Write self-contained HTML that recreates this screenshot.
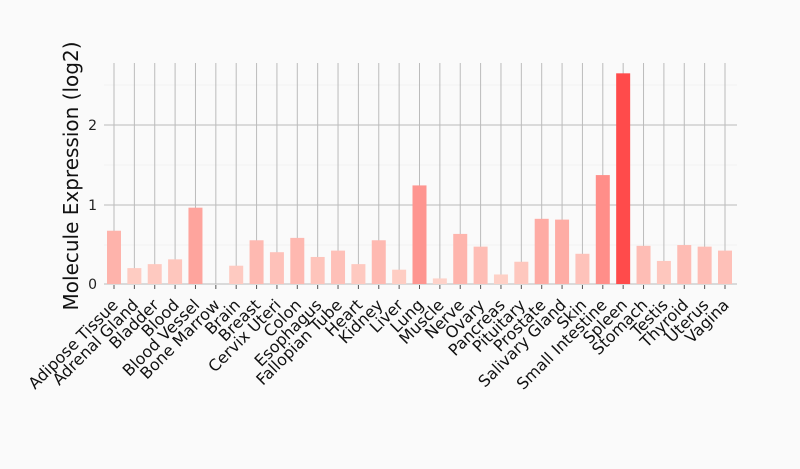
<!DOCTYPE html><html><head><style>body{margin:0;background:#fafafa}</style></head><body>
<svg width="800" height="464" xmlns="http://www.w3.org/2000/svg" font-family="DejaVu Sans, Liberation Sans, sans-serif">
<rect width="800" height="464" fill="#fafafa"/>
<g id="g"></g>
<text transform="translate(78,176) rotate(-90)" text-anchor="middle" font-size="20" fill="#111">Molecule Expression (log2)</text>
<g font-size="14" fill="#222"><text x="97" y="289" text-anchor="end">0</text><text x="97" y="210" text-anchor="end">1</text><text x="97" y="130" text-anchor="end">2</text></g>
</svg>
<script>
var n=["Adipose Tissue","Adrenal Gland","Bladder","Blood","Blood Vessel","Bone Marrow","Brain","Breast","Cervix Uteri","Colon","Esophagus","Fallopian Tube","Heart","Kidney","Liver","Lung","Muscle","Nerve","Ovary","Pancreas","Pituitary","Prostate","Salivary Gland","Skin","Small Intestine","Spleen","Stomach","Testis","Thyroid","Uterus","Vagina"];
var v=[0.67,0.2,0.25,0.31,0.96,0,0.23,0.55,0.4,0.58,0.34,0.42,0.25,0.55,0.18,1.24,0.07,0.63,0.47,0.12,0.28,0.82,0.81,0.38,1.37,2.65,0.48,0.29,0.49,0.47,0.42];
var s='',x0=114,dx=(725-114)/30,y0=284,u=79.5;
s+='<line x1="104" x2="737" y1="165" y2="165" stroke="#f2f2f2"/><line x1="104" x2="737" y1="245" y2="245" stroke="#f2f2f2"/><line x1="104" x2="737" y1="85" y2="85" stroke="#f2f2f2"/>';
s+='<line x1="104" x2="737" y1="125" y2="125" stroke="#bbb"/><line x1="104" x2="737" y1="205" y2="205" stroke="#bbb"/>';
for(var i=0;i<n.length;i++){var x=x0+i*dx;
s+='<line x1="'+x+'" x2="'+x+'" y1="63" y2="284" stroke="#bbb"/>';}
s+='<line x1="104" x2="737" y1="284" y2="284" stroke="#bbb"/>';
function mix(t){var a=[254,214,204],b=[255,75,75];return 'rgb('+a.map((c,k)=>Math.round(c+(b[k]-c)*t)).join(',')+')';}
for(var i=0;i<n.length;i++){var x=x0+i*dx,h=v[i]*u;
s+='<rect x="'+(x-7)+'" y="'+(y0-h)+'" width="14" height="'+h+'" fill="'+mix(v[i]/2.65)+'"/>';
s+='<line x1="'+x+'" x2="'+x+'" y1="285" y2="289" stroke="#555"/>';
s+='<text transform="translate('+(x+5)+',306) rotate(-45)" text-anchor="end" font-size="16" fill="#111">'+n[i]+'</text>';}
document.getElementById('g').innerHTML=s;
</script></body></html>
